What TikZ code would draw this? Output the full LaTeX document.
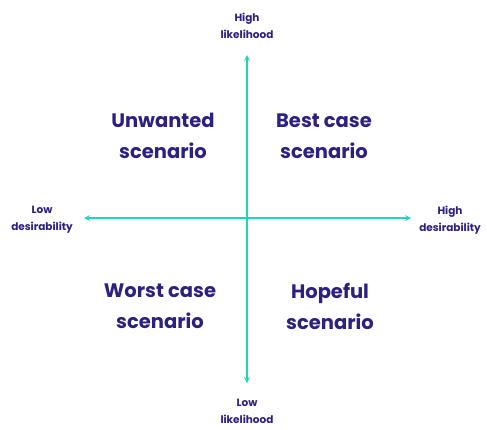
\documentclass[tikz,border=0pt]{standalone}
\usepackage{fontspec}
\setmainfont{Poppins}
\usepackage{tikz}
\usetikzlibrary{arrows,positioning}
\usepackage{xcolor}
\definecolor{qnavy}{RGB}{43,33,128}
\definecolor{qteal}{RGB}{32,214,180}
\tikzstyle{axis} = [line width=1.6pt,<->,>=stealth,color=qteal]
\tikzstyle{quad} = [align=center,text=qnavy,font=\fontsize{19.5}{31}\selectfont\bfseries]
\tikzstyle{tag} = [align=center,text=qnavy,font=\fontsize{10.5}{17}\selectfont\bfseries]

\begin{document}
\begin{tikzpicture}[x=1pt,y=-1pt]
\useasboundingbox[fill=white] (0,0) rectangle (487,429);
% Axis ends
\coordinate (top) at (247,55);
\coordinate (bottom) at (247,383);
\coordinate (left) at (84,218);
\coordinate (right) at (411,218);

% Axes
\draw[axis] (bottom) -- (top);
\draw[axis] (left) -- (right);

% Axis labels
\node[tag] (highlik) at (247,26) {High\\likelihood};
\node[tag] (lowlik) at (247,411) {Low\\likelihood};
\node[tag] (lowdes) at (42,220) {Low\\desirability};
\node[tag] (highdes) at (450,220) {High\\desirability};

% Quadrants
\node[quad] (unwanted) at (163,136) {Unwanted\\scenario};
\node[quad] (best) at (324,136) {Best case\\scenario};
\node[quad] (worst) at (160,306) {Worst case\\scenario};
\node[quad] (hopeful) at (330,306) {Hopeful\\scenario};
\end{tikzpicture}
\end{document}
